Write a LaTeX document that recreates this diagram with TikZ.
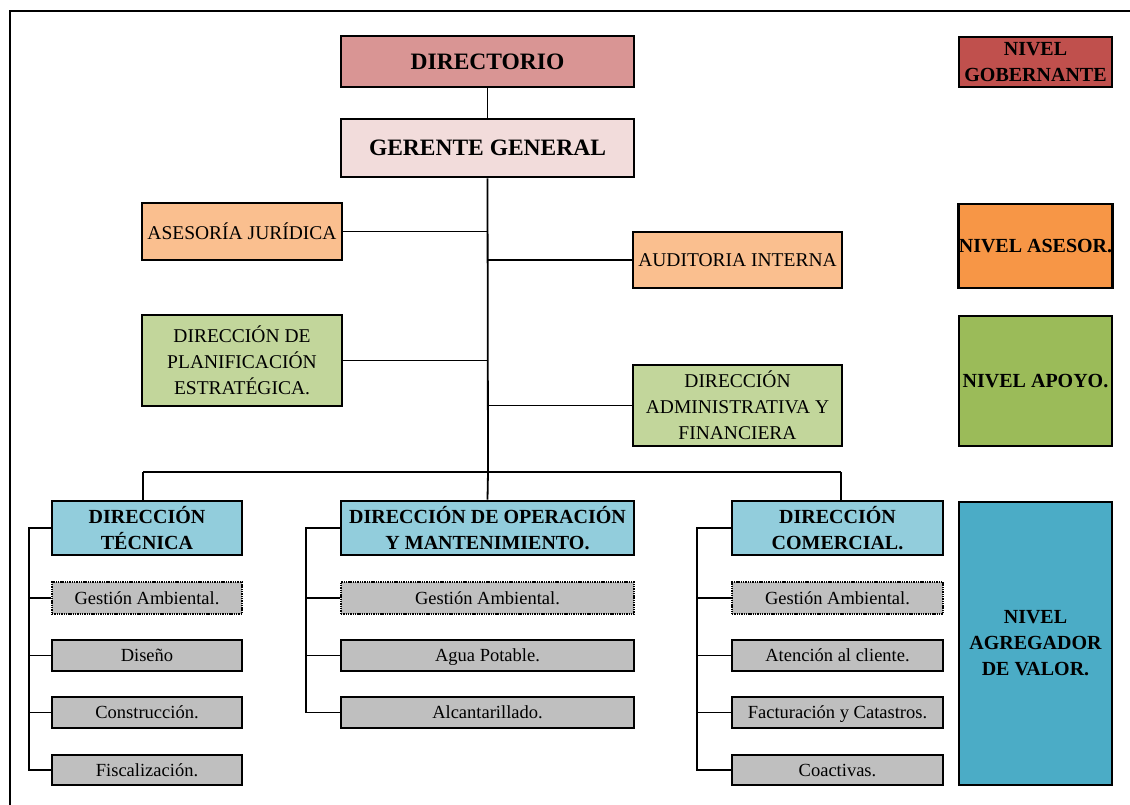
\documentclass[tikz,border=0pt]{standalone}
\usepackage{fontspec}
\setmainfont{Liberation Serif}
\definecolor{cDir}{HTML}{D99594}
\definecolor{cGer}{HTML}{F2DCDB}
\definecolor{cAse}{HTML}{FABF8F}
\definecolor{cApo}{HTML}{C2D69B}
\definecolor{cAzul}{HTML}{92CDDC}
\definecolor{cGris}{HTML}{BFBFBF}
\definecolor{lGob}{HTML}{C0504D}
\definecolor{lAse}{HTML}{F79646}
\definecolor{lApo}{HTML}{9BBB59}
\definecolor{lAgr}{HTML}{4BACC6}
\tikzset{
  box/.style={draw=black, line width=2.8pt, inner sep=0pt, align=center, text=black},
  bigbold/.style={box, font=\fontsize{23.5}{28}\selectfont\bfseries},
  plain/.style={box, font=\fontsize{19.5}{26}\selectfont},
  dirbox/.style={box, fill=cAzul, font=\fontsize{20}{26}\selectfont\bfseries},
  sub/.style={draw=black, line width=1.9pt, fill=cGris, inner sep=0pt, align=center,
    text height=14.5pt, text depth=2.5pt, font=\fontsize{18.5}{22}\selectfont},
  subdash/.style={sub, line width=1.2pt, dash pattern=on 1.4pt off 0.9pt},
  legend/.style={box, font=\fontsize{20}{26}\selectfont\bfseries, minimum width=153pt},
  link/.style={draw=black, line width=1.8pt},
}
\begin{document}
\begin{tikzpicture}[x=1pt, y=-1pt]
\useasboundingbox (0,0) rectangle (1130,805);
% outer frame (left and top edges)
\draw[line width=1.2pt] (10,805) -- (10,11) -- (1130,11);

% governing and advisory levels
\node[bigbold, fill=cDir, minimum width=293pt, minimum height=51pt] (dir) at (487.5,61.5) {DIRECTORIO};
\node[bigbold, fill=cGer, minimum width=293pt, minimum height=58pt] (ger) at (487.5,148) {GERENTE GENERAL};
\node[plain, fill=cAse, minimum width=200pt, minimum height=57pt] (jur) at (242,231.5) {ASESORÍA JURÍDICA};
\node[plain, fill=cAse, minimum width=209pt, minimum height=56pt] (aud) at (737.5,260) {AUDITORIA INTERNA};
\node[plain, fill=cApo, minimum width=200pt, minimum height=91pt] (pla) at (242,360.5) {DIRECCIÓN DE\\PLANIFICACIÓN\\ESTRATÉGICA.};
\node[plain, fill=cApo, minimum width=209pt, minimum height=81pt] (adm) at (737.5,405.5) {DIRECCIÓN\\ADMINISTRATIVA Y\\FINANCIERA};

% operative directions
\node[dirbox, minimum width=190pt, minimum height=54pt] (tec) at (147,528) {DIRECCIÓN\\TÉCNICA};
\node[dirbox, minimum width=293pt, minimum height=54pt] (ope) at (487.5,528) {DIRECCIÓN DE OPERACIÓN\\Y MANTENIMIENTO.};
\node[dirbox, minimum width=211pt, minimum height=54pt] (com) at (837.5,528) {DIRECCIÓN\\COMERCIAL.};

% units under each direction
\node[subdash, minimum width=190pt, minimum height=32pt] (t1) at (147,598) {Gestión Ambiental.};
\node[sub, minimum width=190pt, minimum height=31pt] (t2) at (147,655.5) {Diseño};
\node[sub, minimum width=190pt, minimum height=31pt] (t3) at (147,712.5) {Construcción.};
\node[sub, minimum width=190pt, minimum height=30pt] (t4) at (147,770) {Fiscalización.};

\node[subdash, minimum width=293pt, minimum height=32pt] (o1) at (487.5,598) {Gestión Ambiental.};
\node[sub, minimum width=293pt, minimum height=31pt] (o2) at (487.5,655.5) {Agua Potable.};
\node[sub, minimum width=293pt, minimum height=31pt] (o3) at (487.5,712.5) {Alcantarillado.};

\node[subdash, minimum width=211pt, minimum height=32pt] (c1) at (837.5,598) {Gestión Ambiental.};
\node[sub, minimum width=211pt, minimum height=31pt] (c2) at (837.5,655.5) {Atención al cliente.};
\node[sub, minimum width=211pt, minimum height=31pt] (c3) at (837.5,712.5) {Facturación y Catastros.};
\node[sub, minimum width=211pt, minimum height=30pt] (c4) at (837.5,770) {Coactivas.};

% level legend
\node[legend, fill=lGob, minimum height=50pt] (lg) at (1035.5,62) {NIVEL\\GOBERNANTE};
\node[legend, fill=lAse, minimum height=84pt] (la) at (1035.5,246) {NIVEL ASESOR.};
\node[legend, fill=lApo, minimum height=130pt] (lp) at (1035.5,381) {NIVEL APOYO.};
\node[legend, fill=lAgr, minimum height=283pt] (lv) at (1035.5,643.5) {NIVEL\\AGREGADOR\\DE VALOR.};

% trunk and branches
\coordinate (bar) at (488,472);
\coordinate (barL) at (143,472);
\coordinate (barR) at (841,472);
\draw[link] (dir.south) -- (ger.north);
\draw[link] (ger.south) -- (bar);
\draw[link] (jur.east) -- (jur.east -| bar);
\draw[link] (aud.west) -- (aud.west -| bar);
\draw[link] (pla.east) -- (pla.east -| bar);
\draw[link] (adm.west) -- (adm.west -| bar);
\draw[link] (barL) -- (barR);
\draw[link] (barL) -- (barL |- tec.north);
\draw[link] (bar) -- (ope.north);
\draw[link] (barR) -- (barR |- com.north);

% brackets to the units
\coordinate (tk) at (29,528);
\draw[link] (tec.west) -- (tk) |- (t4.west);
\foreach \n in {t1,t2,t3} \draw[link] (tk |- \n.west) -- (\n.west);
\coordinate (ok) at (306,528);
\draw[link] (ope.west) -- (ok) |- (o3.west);
\foreach \n in {o1,o2} \draw[link] (ok |- \n.west) -- (\n.west);
\coordinate (ck) at (697,528);
\draw[link] (com.west) -- (ck) |- (c4.west);
\foreach \n in {c1,c2,c3} \draw[link] (ck |- \n.west) -- (\n.west);
\end{tikzpicture}
\end{document}
